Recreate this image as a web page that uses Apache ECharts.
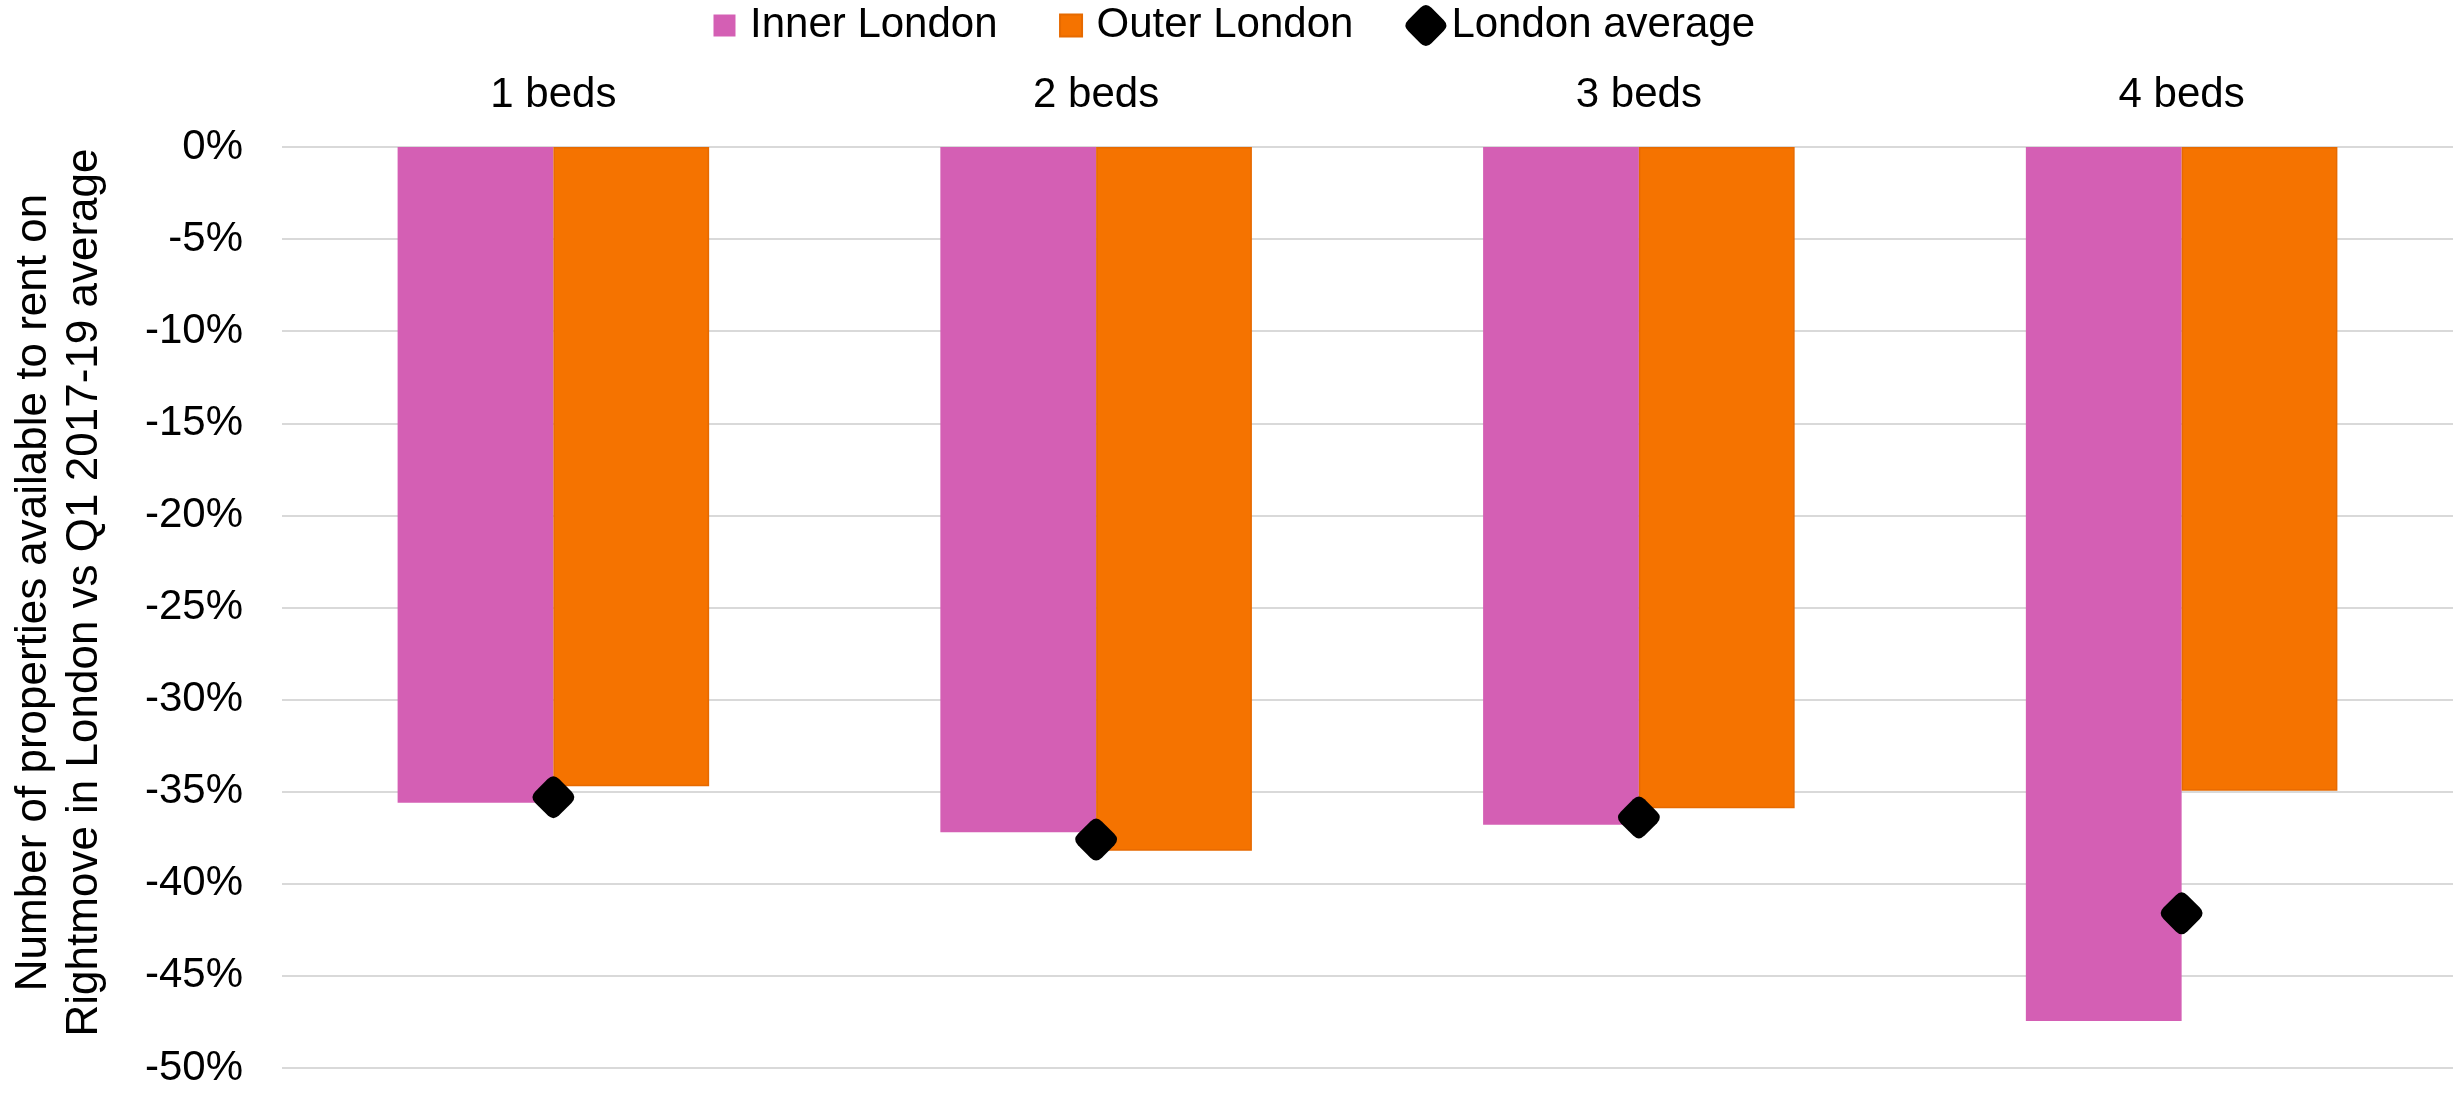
<!DOCTYPE html>
<html>
<head>
<meta charset="utf-8">
<script src="https://cdn.jsdelivr.net/npm/echarts@6/dist/echarts.min.js"></script>
<style>
html,body{margin:0;padding:0;background:#fff;}
#chart{width:2459px;height:1095px;}
</style>
</head>
<body>
<div id="chart"></div>
<script>
const categories = ['1 beds', '2 beds', '3 beds', '4 beds'];
const innerLondon = [-35.6, -37.2, -36.8, -47.45];
const outerLondon = [-34.7, -38.2, -35.9, -34.95];
const londonAverage = [-35.3, -37.6, -36.4, -41.6];
const yTicks = { min: -50, max: 0, interval: 5 };
const yTitle = 'Number of properties available to rent on\nRightmove in London vs Q1 2017-19 average';

const FONT = '"Liberation Sans", Arial, sans-serif';
const PINK = '#D45FB4';
const ORANGE = '#F57300';
const diamondPath = 'path://M62,12 L88,38 Q100,50 88,62 L62,88 Q50,100 38,88 L12,62 Q0,50 12,38 L38,12 Q50,0 62,12 Z';
const squarePath = 'path://M0,0 M41,41 M9.5,9.5 h22 v22 h-22 Z';

const chart = echarts.init(document.getElementById('chart'));
chart.setOption({
  backgroundColor: '#ffffff',
  animation: false,
  textStyle: { fontFamily: FONT },
  legend: {
    top: 4,
    left: 'center',
    padding: 0,
    itemWidth: 41,
    itemHeight: 41,
    itemGap: 52,
    textStyle: { fontSize: 42, color: '#000', fontFamily: FONT },
    data: [
      { name: 'Inner London', icon: squarePath },
      { name: 'Outer London', icon: squarePath },
      { name: 'London average', icon: diamondPath }
    ]
  },
  grid: { left: 279, right: 6, top: 147, bottom: 27, containLabel: false },
  xAxis: {
    type: 'category',
    position: 'top',
    data: categories,
    axisLine: { show: false },
    axisTick: { show: false },
    axisLabel: { fontSize: 42, color: '#000', margin: 31, fontFamily: FONT }
  },
  yAxis: {
    type: 'value',
    min: yTicks.min,
    max: yTicks.max,
    interval: yTicks.interval,
    name: yTitle,
    nameLocation: 'middle',
    nameGap: 172,
    nameTextStyle: { fontSize: 44, color: '#000', lineHeight: 51, fontFamily: FONT, padding: [0, 0, 0, 30] },
    axisLine: { show: false },
    axisTick: { show: false },
    axisLabel: { fontSize: 42, color: '#000', margin: 39, formatter: '{value}%', fontFamily: FONT },
    splitLine: { show: true, lineStyle: { color: '#D9D9D9', width: 2 } }
  },
  series: [
    {
      name: 'Inner London',
      type: 'bar',
      data: innerLondon,
      barGap: '0%',
      barCategoryGap: '42.6%',
      itemStyle: { color: PINK }
    },
    {
      name: 'Outer London',
      type: 'bar',
      data: outerLondon,
      barGap: '0%',
      barCategoryGap: '42.6%',
      itemStyle: { color: ORANGE, borderColor: '#E66A00', borderWidth: 1.5 }
    },
    {
      name: 'London average',
      type: 'scatter',
      data: londonAverage,
      symbol: diamondPath,
      symbolSize: 42,
      itemStyle: { color: '#000', opacity: 1 },
      z: 5
    }
  ]
});
</script>
</body>
</html>
